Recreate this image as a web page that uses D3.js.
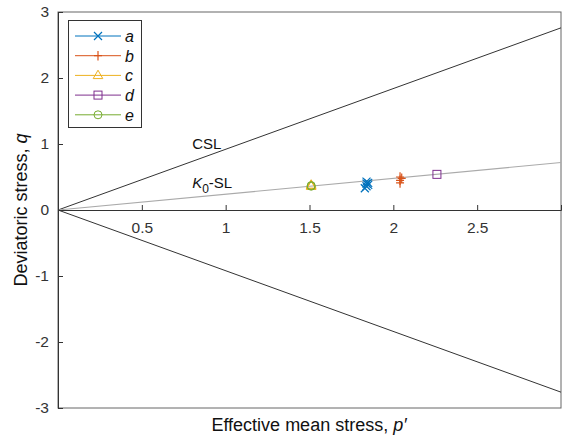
<!DOCTYPE html>
<html><head><meta charset="utf-8">
<script src="https://cdn.jsdelivr.net/npm/d3@7"></script>
<style>body{margin:0;background:#fff;} text{font-family:"Liberation Sans",Arial,sans-serif;}</style>
</head><body><svg id="c" width="564" height="437"></svg>
<script>
const xTicks=[0.5,1,1.5,2,2.5];
const yTicks=[-3,-2,-1,0,1,2,3];
const cslSlope=0.92;
const k0Slope=0.24;
const seriesNames=["a","b","c","d","e"];
const seriesColors=["#0072BD","#D95319","#EDB120","#7E2F8E","#77AC30"];
const seriesSymbols=["x","plus","triangle","square","circle"];
const pA=[1.83,1.84,1.85,1.84,1.84,1.85];
const qA=[0.33,0.36,0.38,0.40,0.43,0.41];
const pB=[2.04,2.04,2.05,2.04];
const qB=[0.41,0.45,0.48,0.50];
const pC=[1.51,1.51,1.51];
const qC=[0.36,0.38,0.37];
const pD=[2.26];
const qD=[0.54];
const pE=[1.51,1.51];
const qE=[0.36,0.37];
const seriesP=[pA,pB,pC,pD,pE];
const seriesQ=[qA,qB,qC,qD,qE];

const svg=d3.select("#c");
const L=58,R=561,T=12,B=408;
const x=d3.scaleLinear().domain([0,3]).range([L,R]);
const y=d3.scaleLinear().domain([-3,3]).range([B,T]);
const axisCol="#333";
const fmt=d=>String(d);

// box
svg.append("rect").attr("x",L).attr("y",T).attr("width",R-L).attr("height",B-T).attr("fill","none").attr("stroke","#666").attr("stroke-width",1);

// lines
const line=d3.line().x(d=>x(d[0])).y(d=>y(d[1]));
svg.append("path").attr("d",line([[0,0],[3,3*cslSlope]])).attr("stroke","#333").attr("fill","none").attr("stroke-width",1);
svg.append("path").attr("d",line([[0,0],[3,-3*cslSlope]])).attr("stroke","#333").attr("fill","none").attr("stroke-width",1);
svg.append("path").attr("d",line([[0,0],[3,3*k0Slope]])).attr("stroke","#aaa").attr("fill","none").attr("stroke-width",1.2);

// x axis at origin
const gx=svg.append("g").attr("transform",`translate(0,${y(0)})`)
 .call(d3.axisBottom(x).tickValues(xTicks).tickSize(-5).tickPadding(12).tickFormat(fmt));
gx.select(".domain").attr("stroke",axisCol);
gx.selectAll(".tick line").attr("stroke",axisCol);
gx.selectAll("text").attr("font-size",15.5).attr("fill","#333");

const gy=svg.append("g").attr("transform",`translate(${L},0)`)
 .call(d3.axisLeft(y).tickValues(yTicks).tickSize(-5).tickPadding(9).tickFormat(fmt));
gy.select(".domain").attr("stroke",axisCol);
gy.selectAll(".tick line").attr("stroke",axisCol);
gy.selectAll("text").attr("font-size",15.5).attr("fill","#333");

// markers
function marker(g,sym,cx,cy,col,s){
  if(sym==="x"){g.append("path").attr("d",`M${cx-s},${cy-s}L${cx+s},${cy+s}M${cx-s},${cy+s}L${cx+s},${cy-s}`).attr("stroke",col).attr("stroke-width",1.2).attr("fill","none");}
  else if(sym==="plus"){g.append("path").attr("d",`M${cx-s},${cy}L${cx+s},${cy}M${cx},${cy-s*1.2}L${cx},${cy+s*1.2}`).attr("stroke",col).attr("stroke-width",1.2).attr("fill","none");}
  else if(sym==="triangle"){g.append("path").attr("d",`M${cx},${cy-s*1.3}L${cx+s*1.2},${cy+s*0.8}L${cx-s*1.2},${cy+s*0.8}Z`).attr("stroke",col).attr("stroke-width",1).attr("fill","none");}
  else if(sym==="square"){g.append("rect").attr("x",cx-s).attr("y",cy-s).attr("width",2*s).attr("height",2*s).attr("stroke",col).attr("stroke-width",1).attr("fill","none");}
  else if(sym==="circle"){g.append("circle").attr("cx",cx).attr("cy",cy).attr("r",s).attr("stroke",col).attr("stroke-width",1).attr("fill","none");}
}
const gm=svg.append("g");
seriesNames.forEach((n,i)=>{
  seriesP[i].forEach((p,j)=>marker(gm,seriesSymbols[i],x(p),y(seriesQ[i][j]),seriesColors[i],4));
});

// text labels
svg.append("text").attr("x",x(0.8)).attr("y",y(0.92)).attr("font-size",15).attr("fill","#111").text("CSL");
const k=svg.append("text").attr("x",x(0.8)).attr("y",y(0.33)).attr("font-size",15).attr("fill","#111");
k.append("tspan").attr("font-style","italic").text("K");
k.append("tspan").attr("font-size",12).attr("dy",5).text("0");
k.append("tspan").attr("dy",-5).text("-SL");

// legend
const lg=svg.append("g");
lg.append("rect").attr("x",68.5).attr("y",20.5).attr("width",73).attr("height",107).attr("fill","#fff").attr("stroke","#333").attr("stroke-width",1);
seriesNames.forEach((n,i)=>{
  const yy=36+i*19.7;
  lg.append("line").attr("x1",75).attr("x2",121).attr("y1",yy).attr("y2",yy).attr("stroke",seriesColors[i]).attr("stroke-width",1);
  marker(lg,seriesSymbols[i],98,yy,seriesColors[i],4);
  lg.append("text").attr("x",125).attr("y",yy+6).attr("font-size",16).attr("font-style","italic").attr("fill","#111").text(n);
});

// axis titles
const xl=svg.append("text").attr("x",309).attr("y",431).attr("text-anchor","middle").attr("font-size",18).attr("fill","#111");
xl.append("tspan").text("Effective mean stress, ");
xl.append("tspan").attr("font-style","italic").text("p′");
const yl=svg.append("text").attr("transform",`translate(27,${y(0)}) rotate(-90)`).attr("text-anchor","middle").attr("font-size",18).attr("fill","#111");
yl.append("tspan").text("Deviatoric stress, ");
yl.append("tspan").attr("font-style","italic").text("q");
</script></body></html>
